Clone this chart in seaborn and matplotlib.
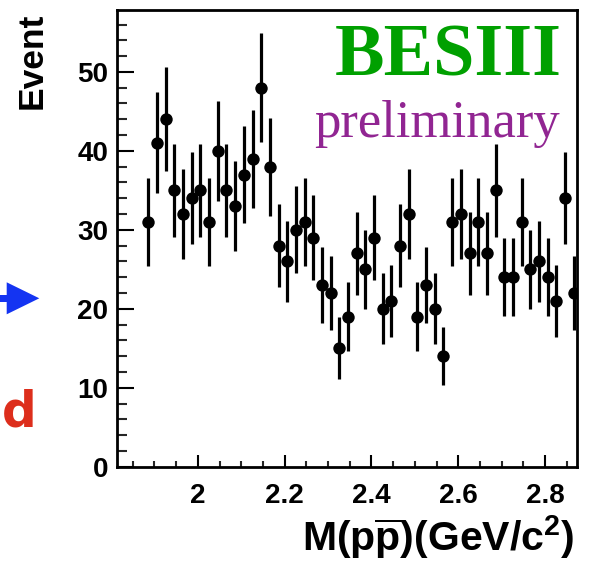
import numpy as np
import pandas as pd
import matplotlib
matplotlib.use("Agg")
import matplotlib.pyplot as plt
import seaborn as sns
from matplotlib.patches import Polygon, Rectangle
from matplotlib.ticker import MultipleLocator

# ---- data ----
mass = [1.886, 1.906, 1.926, 1.946, 1.966, 1.986, 2.006, 2.026, 2.046, 2.066,
        2.086, 2.106, 2.126, 2.146, 2.166, 2.186, 2.206, 2.226, 2.246, 2.266,
        2.286, 2.306, 2.326, 2.346, 2.366, 2.386, 2.406, 2.426, 2.446, 2.466,
        2.486, 2.506, 2.526, 2.546, 2.566, 2.586, 2.606, 2.626, 2.646, 2.666,
        2.686, 2.706, 2.726, 2.746, 2.766, 2.786, 2.806, 2.826, 2.846, 2.866]
events = [31, 41, 44, 35, 32, 34, 35, 31, 40, 35,
          33, 37, 39, 48, 38, 28, 26, 30, 31, 29,
          23, 22, 15, 19, 27, 25, 29, 20, 21, 28,
          32, 19, 23, 20, 14, 31, 32, 27, 31, 27,
          35, 24, 24, 31, 25, 26, 24, 21, 34, 22]
errors = [5.6, 6.4, 6.6, 5.9, 5.7, 5.8, 5.9, 5.6, 6.3, 5.9,
          5.7, 6.1, 6.2, 6.9, 6.2, 5.3, 5.1, 5.5, 5.6, 5.4,
          4.8, 4.7, 3.9, 4.4, 5.2, 5.0, 5.4, 4.5, 4.6, 5.3,
          5.7, 4.4, 4.8, 4.5, 3.7, 5.6, 5.7, 5.2, 5.6, 5.2,
          5.9, 4.9, 4.9, 5.6, 5.0, 5.1, 4.9, 4.6, 5.8, 4.7]
x_ticks = [2.0, 2.2, 2.4, 2.6, 2.8]
x_ticklabels = ["2", "2.2", "2.4", "2.6", "2.8"]
y_ticks = [0, 10, 20, 30, 40, 50]

df = pd.DataFrame({"mass": mass, "events": events, "err": errors})

sns.set_theme(style="white")
plt.rcParams["font.family"] = ["Liberation Sans", "DejaVu Sans"]
plt.rcParams["mathtext.fontset"] = "custom"
plt.rcParams["mathtext.rm"] = "Liberation Sans:bold"
plt.rcParams["mathtext.bf"] = "Liberation Sans:bold"
plt.rcParams["mathtext.it"] = "Liberation Sans:bold"

W, H = 591, 562
fig = plt.figure(figsize=(W / 100, H / 100), dpi=100)
fig.patch.set_facecolor("white")
ax = fig.add_axes([116.7 / W, 1 - 466.7 / H, (576.7 - 116.7) / W, (466.7 - 9.5) / H])

ax.errorbar(df["mass"], df["events"], yerr=df["err"], fmt="none",
            ecolor="black", elinewidth=2.3, capsize=0, zorder=2)
sns.scatterplot(data=df, x="mass", y="events", ax=ax, color="black",
                s=80, marker="o", edgecolor="black", linewidth=0, zorder=3,
                legend=False)

ax.set_xlim(1.813, 2.873)
ax.set_ylim(0, 57.9)
ax.set_xticks(x_ticks)
ax.set_xticklabels(x_ticklabels)
ax.set_yticks(y_ticks)
ax.xaxis.set_minor_locator(MultipleLocator(0.05))
ax.yaxis.set_minor_locator(MultipleLocator(2))
ax.set_xlabel("")
ax.set_ylabel("")
for sp in ax.spines.values():
    sp.set_visible(True)
    sp.set_linewidth(2.0)
    sp.set_color("black")
ax.tick_params(axis="x", which="major", direction="in", length=8.5, width=1.5,
               pad=12, labelsize=20, colors="black", bottom=True, top=False)
ax.tick_params(axis="x", which="minor", direction="in", length=4.5, width=1.5,
               bottom=True, top=False)
ax.tick_params(axis="y", which="major", direction="in", length=12, width=1.5,
               pad=6, labelsize=20, colors="black", left=True, right=False)
ax.tick_params(axis="y", which="minor", direction="in", length=7, width=1.5,
               left=True, right=False)
for lab in ax.get_xticklabels() + ax.get_yticklabels():
    lab.set_fontweight("bold")

# axis titles (ROOT style)
fig.text(575 / W, 1 - 551.5 / H, r"M(p$\overline{\mathrm{p}}$)(GeV/c$^{2}$)",
         ha="right", va="baseline", fontsize=29.5, fontweight="bold", color="black")
fig.text(31.7 / W, 1 - 13 / H, "Event", rotation=90, ha="center", va="top",
         fontsize=25.5, fontweight="bold", color="black")

# BESIII labels
fig.text(561.7 / W, 1 - 75 / H, "BESIII", ha="right", va="baseline",
         fontsize=53.5, fontweight="bold", family="Liberation Serif", color="#00A000")
fig.text(560 / W, 1 - 137 / H, "preliminary", ha="right", va="baseline",
         fontsize=38, family="Liberation Serif", color="#912592")

# cropped slide decorations at the left edge
fig.patches.append(Rectangle((0, 1 - 301.7 / H), 8 / W, 6.7 / H,
                             transform=fig.transFigure, color="#1434F2", lw=0))
fig.patches.append(Polygon([(6.7 / W, 1 - 282.3 / H), (6.7 / W, 1 - 314.3 / H),
                            (39.3 / W, 1 - 298.3 / H)], closed=True,
                           transform=fig.transFigure, color="#1434F2", lw=0))
fig.text(2 / W, 1 - 426.7 / H, "d", ha="left", va="baseline", fontsize=35,
         fontweight="bold", family="DejaVu Sans", color="#DD2E1C")

fig.savefig("out.png", dpi=100, facecolor="white")
